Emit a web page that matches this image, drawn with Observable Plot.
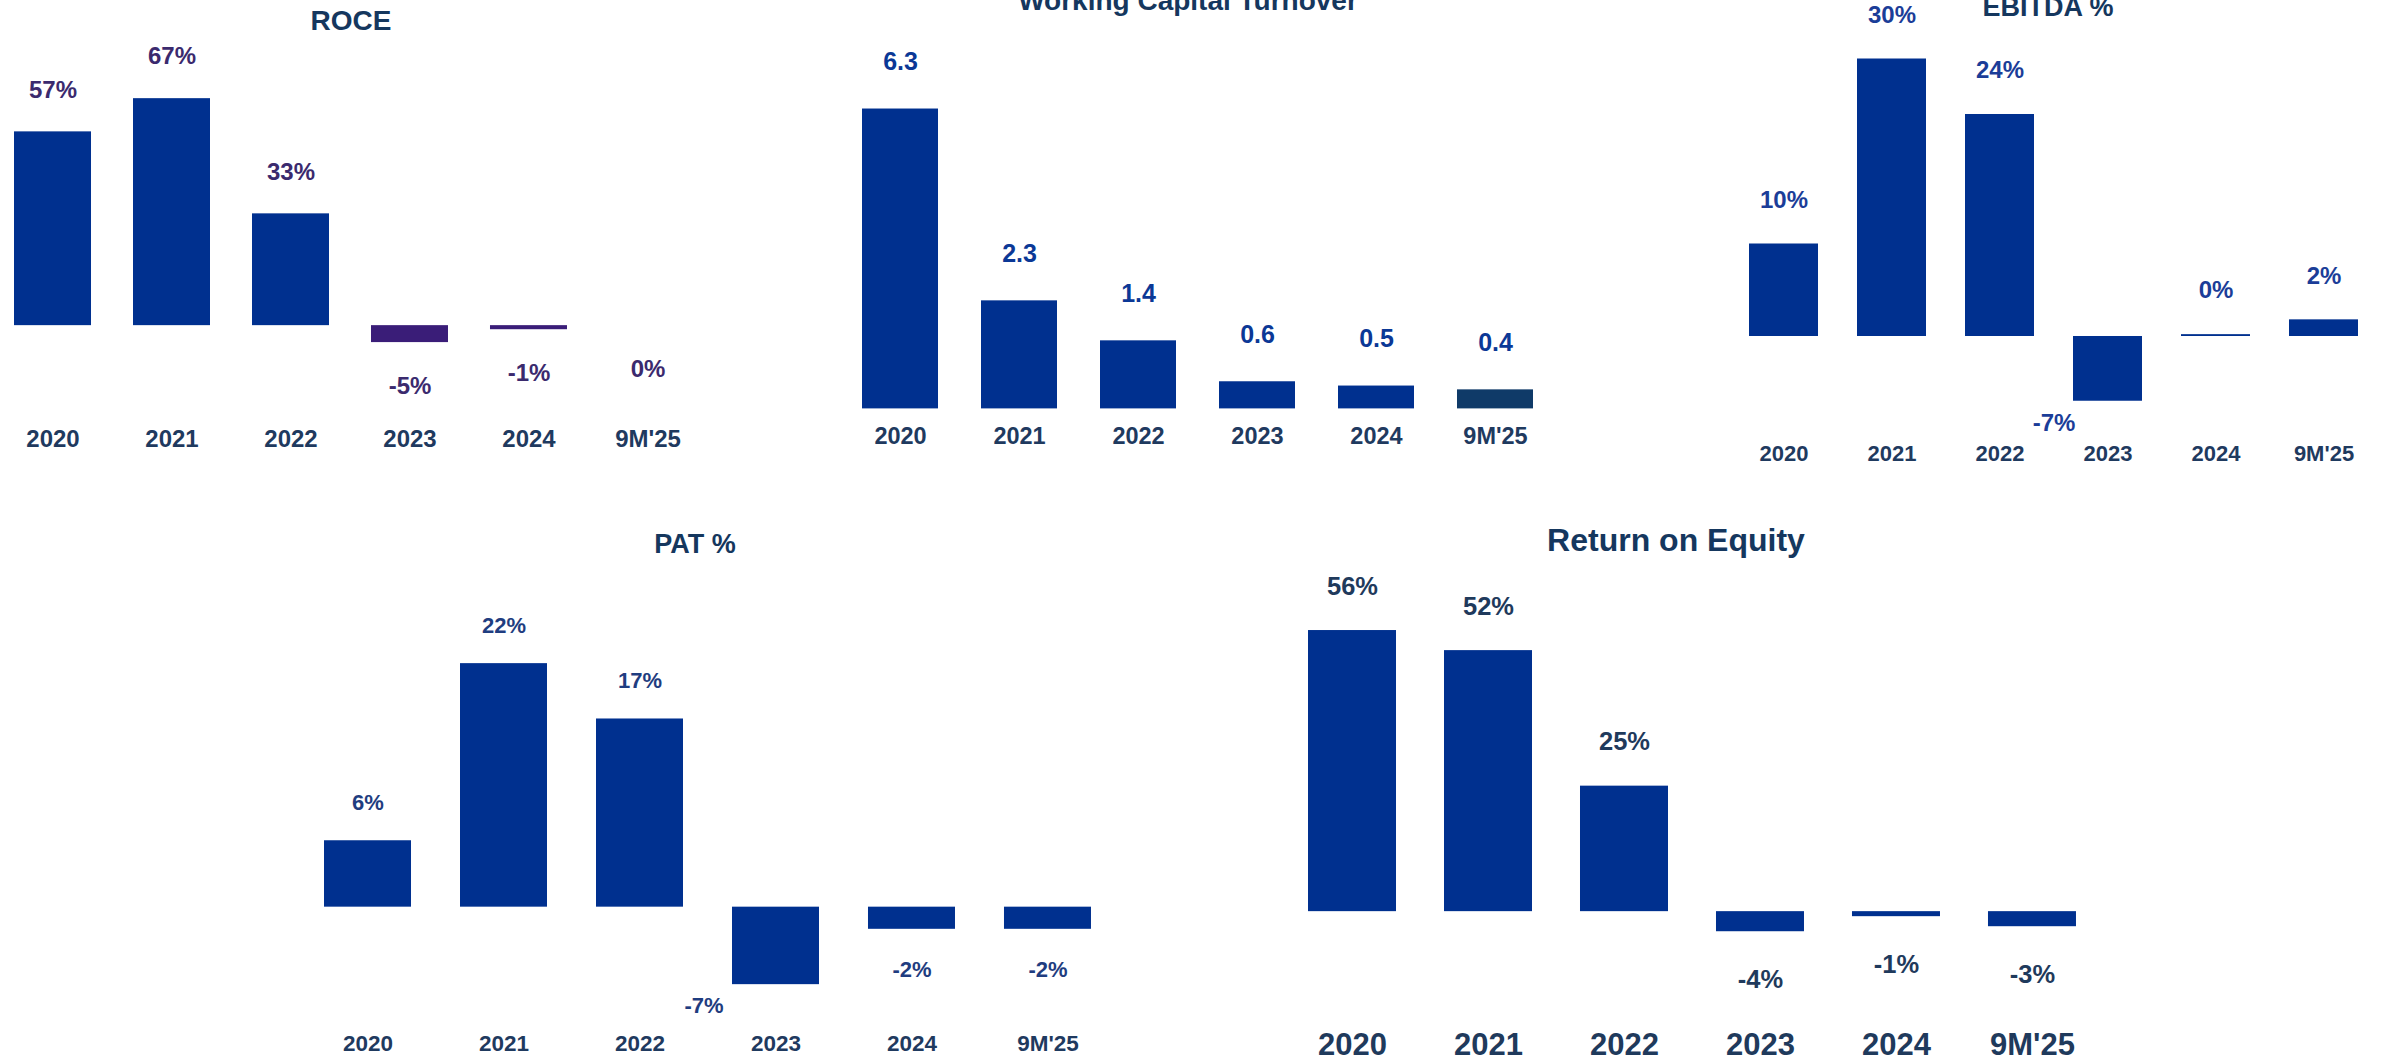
<!DOCTYPE html>
<html>
<head>
<meta charset="utf-8">
<script src="https://cdn.jsdelivr.net/npm/d3@7"></script>
<script src="https://cdn.jsdelivr.net/npm/@observablehq/plot@0.6"></script>
<style>
  html, body { margin: 0; padding: 0; background: #ffffff; }
  #page { position: relative; width: 2382px; height: 1062px; overflow: hidden; background: #ffffff;
          font-family: "Liberation Sans", Arial, sans-serif; }
  .chart { position: absolute; }
  .chart svg { overflow: visible; max-width: none !important; display: block; }
  .title { position: absolute; font-weight: 700; white-space: nowrap; transform: translateX(-50%);
           line-height: 1; color: #15375e; font-family: "Liberation Sans", Arial, sans-serif; }
</style>
</head>
<body>
<div id="page"></div>
<script>
// ---------- data ----------
const periods = ["2020", "2021", "2022", "2023", "2024", "9M'25"];
const roceValues   = [57.2, 67, 33, -5, -1.2, 0];
const wctValues    = [6.30, 2.27, 1.43, 0.57, 0.48, 0.40];
const ebitdaValues = [10, 30, 24, -7, 0.2, 1.8];
const patValues    = [6, 22, 17, -7, -2, -2];
const roeValues    = [56, 52, 25, -4, -1, -3];
const titles = ["ROCE", "Working Capital Turnover", "EBITDA %", "PAT %", "Return on Equity"];

const pct = v => `${Math.round(v) || 0}%`;
const dec = v => v.toFixed(1);

// ---------- layout / style ----------
const BLUE = "#00308f";
const layouts = [
  { title: titles[0], values: roceValues, fmt: pct, c0: 50.5, step: 119.7, pad: 0.357,
    base: 325, k: 3.388, ymin: -12, ymax: 70, up: 42, down: 44, valFs: 24, valColor: "#3b2a6e",
    axisY: 438, axisFs: 24, axisColor: "#1f3a5f",
    fill: d => d.value < 0 ? "#3a1d78" : BLUE, titleX: 351, titleY: 20.5, titleFs: 28 },
  { title: titles[1], values: wctValues, fmt: dec, c0: 900, step: 119, pad: 0.36,
    base: 408, k: 47.6, ymin: 0, ymax: 6.5, up: 47, down: 44, valFs: 25, valColor: "#0b3896",
    axisY: 435, axisFs: 23.5, axisColor: "#1f3a5f",
    fill: d => d.period === "9M'25" ? "#0f3a68" : BLUE, titleX: 1188, titleY: 1, titleFs: 28 },
  { title: titles[2], values: ebitdaValues, fmt: pct, c0: 1781.5, step: 108.8, pad: 0.36,
    base: 336, k: 9.25, ymin: -8, ymax: 32, up: 44, down: 44, valFs: 24, valColor: "#1b3d98",
    axisY: 453, axisFs: 22, axisColor: "#1f3a5f",
    special: { period: "2023", dx: -54, dy: 22 },
    fill: () => BLUE, titleX: 2048, titleY: 7, titleFs: 27 },
  { title: titles[3], values: patValues, fmt: pct, c0: 365, step: 136.9, pad: 0.357,
    base: 907, k: 11.07, ymin: -8, ymax: 24, up: 38, down: 41, valFs: 22, valColor: "#1f3d80",
    axisY: 1043, axisFs: 22.5, axisColor: "#1f3a5f",
    special: { period: "2023", dx: -72, dy: 21 },
    fill: () => BLUE, titleX: 695, titleY: 544, titleFs: 27 },
  { title: titles[4], values: roeValues, fmt: pct, c0: 1352, step: 136.2, pad: 0.35,
    base: 911, k: 5.02, ymin: -5, ymax: 58, up: 44, down: 48, valFs: 25.5, valColor: "#1f3a5c",
    axisY: 1044, axisFs: 31, axisColor: "#1f3a5c",
    fill: () => BLUE, titleX: 1676, titleY: 540, titleFs: 32 }
];

const page = document.getElementById("page");
const FONT = "'Liberation Sans', Arial, sans-serif";

function draw(cfg) {
  const data = periods.map((period, i) => ({ period, value: cfg.values[i] }));
  const ml = 60, mr = 60, mt = 60;
  const frameLeft = cfg.c0 - cfg.step / 2;
  const frameW = cfg.step * periods.length;
  const width = frameW + ml + mr;
  const top = cfg.base - cfg.k * cfg.ymax - mt;
  const frameBottom = cfg.base - cfg.k * cfg.ymin;
  const tickPadding = cfg.axisY - 0.36 * cfg.axisFs - frameBottom;
  const mb = tickPadding + cfg.axisFs * 1.3 + 10;
  const height = frameBottom - top + mb;

  const sp = cfg.special;
  const isSpecial = d => sp && d.period === sp.period;

  const marks = [
    Plot.barY(data, { x: "period", y: "value", fill: cfg.fill }),
    Plot.text(data.filter(d => d.value > 0 && !isSpecial(d)), {
      x: "period", y: "value", text: d => cfg.fmt(d.value), dy: -cfg.up,
      fontSize: cfg.valFs, fontWeight: 700, fill: cfg.valColor
    }),
    Plot.text(data.filter(d => d.value <= 0 && !isSpecial(d)), {
      x: "period", y: "value", text: d => cfg.fmt(d.value), dy: cfg.down,
      fontSize: cfg.valFs, fontWeight: 700, fill: cfg.valColor
    }),
    Plot.axisX({ tickSize: 0, tickPadding, fontSize: cfg.axisFs, fontWeight: 700,
                 fill: cfg.axisColor, label: null })
  ];
  if (sp) {
    marks.push(Plot.text(data.filter(isSpecial), {
      x: "period", y: "value", text: d => cfg.fmt(d.value), dx: sp.dx, dy: sp.dy,
      fontSize: cfg.valFs, fontWeight: 700, fill: cfg.valColor
    }));
  }

  const svg = Plot.plot({
    width, height,
    marginLeft: ml, marginRight: mr, marginTop: mt, marginBottom: mb,
    style: { fontFamily: FONT, fontWeight: 700, fontSize: "20px", color: cfg.axisColor,
             background: "transparent", overflow: "visible", maxWidth: "none" },
    x: { domain: periods, paddingInner: cfg.pad, paddingOuter: cfg.pad / 2, align: 0.5, label: null },
    y: { domain: [cfg.ymin, cfg.ymax], axis: null },
    color: { type: "identity" },
    marks
  });

  const holder = document.createElement("div");
  holder.className = "chart";
  holder.style.left = (frameLeft - ml) + "px";
  holder.style.top = top + "px";
  holder.style.width = width + "px";
  holder.style.height = height + "px";
  holder.appendChild(svg);
  page.appendChild(holder);

  const t = document.createElement("div");
  t.className = "title";
  t.textContent = cfg.title;
  t.style.fontSize = cfg.titleFs + "px";
  t.style.left = cfg.titleX + "px";
  t.style.top = (cfg.titleY - 0.49 * cfg.titleFs) + "px";
  page.appendChild(t);
}

layouts.forEach(draw);
</script>
</body>
</html>
